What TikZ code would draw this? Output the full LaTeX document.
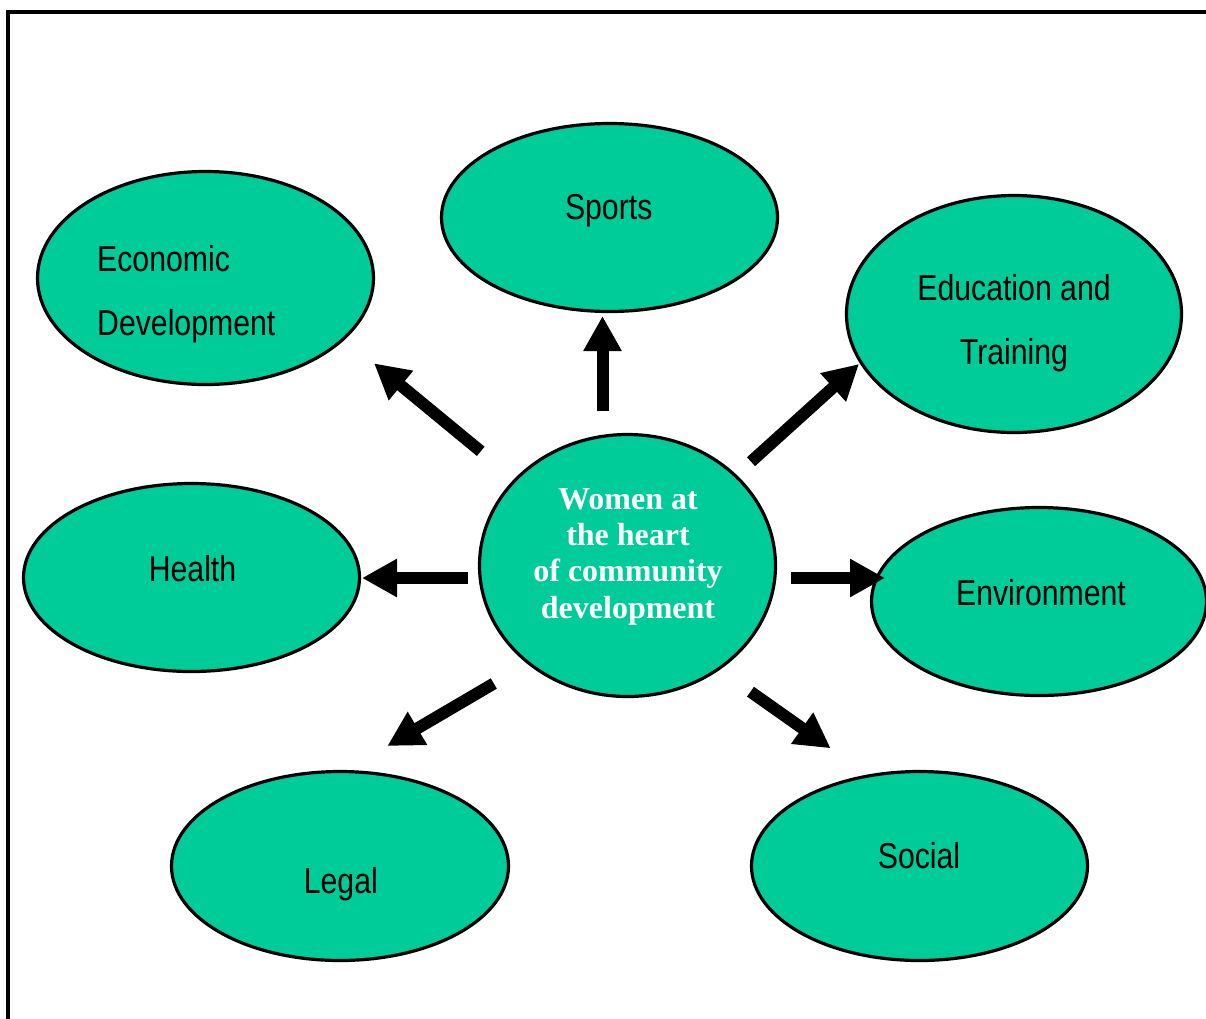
\documentclass[tikz,border=0pt]{standalone}
\usepackage{fontspec}
\usetikzlibrary{shapes.geometric,arrows.meta}
\newfontfamily\narrowsans[FakeStretch=0.84]{Liberation Sans}
\newfontfamily\boldserif[BoldFont={Liberation Serif Bold}]{Liberation Serif}
\definecolor{bubble}{RGB}{0,204,153}
\tikzset{
  bubble/.style={ellipse, draw=black, line width=3.2pt, fill=bubble, inner sep=0pt},
  lbl/.style={anchor=base, inner sep=0pt, font=\narrowsans\fontsize{36}{40}\selectfont, text=black},
  clbl/.style={anchor=base, inner sep=0pt, font=\boldserif\bfseries\fontsize{32}{36}\selectfont, text=white},
  blockarrow/.style={line width=12pt, -{Triangle[length=35pt,width=36pt]}},
  frameline/.style={line width=3.5pt}
}
\begin{document}
\begin{tikzpicture}[x=1pt,y=-1pt]
\useasboundingbox (0,0) rectangle (1206,1018);
% frame
\coordinate (fbl) at (8,1030);
\coordinate (ftl) at (8,12);
\coordinate (ftr) at (1220,12);
\draw[frameline] (fbl) -- (ftl) -- (ftr);

% ellipses
\node[bubble, minimum width=336pt, minimum height=188pt] (sports) at (609.5,217.5) {};
\node[bubble, minimum width=336pt, minimum height=213pt] (econ) at (205.5,278) {};
\node[bubble, minimum width=335pt, minimum height=237pt] (edu) at (1014,314) {};
\node[bubble, minimum width=336pt, minimum height=188pt] (health) at (191.5,577.5) {};
\node[bubble, minimum width=296pt, minimum height=262pt] (center) at (627.5,565.5) {};
\node[bubble, minimum width=335pt, minimum height=188pt] (env) at (1039,601.5) {};
\node[bubble, minimum width=337pt, minimum height=189pt] (legal) at (340,866) {};
\node[bubble, minimum width=336pt, minimum height=189pt] (social) at (919.5,866) {};

% labels
\node[lbl] (sportsT) at (608.7,219) {Sports};
\node[lbl, anchor=base west] (econT1) at (97,271) {Economic};
\node[lbl, anchor=base west] (econT2) at (97,335) {Development};
\node[lbl] (eduT1) at (1014,300) {Education and};
\node[lbl] (eduT2) at (1014,364) {Training};
\node[lbl] (healthT) at (192.5,581.7) {Health};
\node[lbl] (envT) at (1041,605) {Environment};
\node[lbl] (legalT) at (340.8,893.3) {Legal};
\node[lbl] (socialT) at (919,868.3) {Social};

\node[clbl] (cT1) at (628,509) {Women at};
\node[clbl] (cT2) at (628,545) {the heart};
\node[clbl] (cT3) at (628,581.7) {of community};
\node[clbl] (cT4) at (628,618.3) {development};

% arrow ends
\coordinate (aEconS) at (480.7,451.3);  \coordinate (aEconE) at (374,363.3);
\coordinate (aSpoS) at (602.5,411);     \coordinate (aSpoE) at (602.5,316);
\coordinate (aEduS) at (751,461.7);     \coordinate (aEduE) at (859,364);
\coordinate (aHeaS) at (468,578);       \coordinate (aHeaE) at (362,578);
\coordinate (aEnvS) at (791,578);       \coordinate (aEnvE) at (885,578);
\coordinate (aLegS) at (493.8,683.5);   \coordinate (aLegE) at (387.3,746);
\coordinate (aSocS) at (750.5,691.7);   \coordinate (aSocE) at (830.7,748.3);

\draw[blockarrow] (aEconS) -- (aEconE);
\draw[blockarrow] (aSpoS) -- (aSpoE);
\draw[blockarrow] (aEduS) -- (aEduE);
\draw[blockarrow] (aHeaS) -- (aHeaE);
\draw[blockarrow] (aEnvS) -- (aEnvE);
\draw[blockarrow] (aLegS) -- (aLegE);
\draw[blockarrow] (aSocS) -- (aSocE);
\end{tikzpicture}
\end{document}
